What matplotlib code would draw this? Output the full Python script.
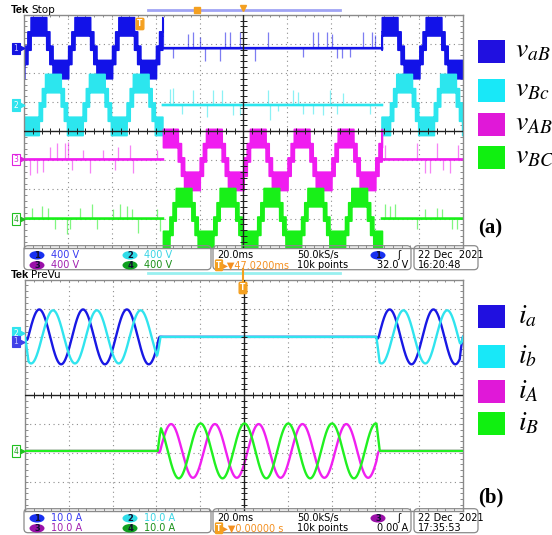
import numpy as np
import matplotlib.pyplot as plt
from matplotlib.patches import Rectangle, FancyBboxPatch, Ellipse

plt.rcParams['mathtext.fontset'] = 'stix'

W, H = 552, 535

# ---- screen (a): 400 V/div, 20 ms/div, 10 x 8 divisions (x in ms, y in div)
v_labels = [r'$v_{aB}$', r'$v_{Bc}$', r'$v_{AB}$', r'$v_{BC}$']
v_colors = ['#1212e8', '#2ce6ee', '#f01cf0', '#18f018']
v_legend = ['#2010e0', '#18e8f8', '#e018d8', '#10f010']
v_offset = [2.85, 0.9, -0.97, -3.0]
v_amp = [0.98, 0.98, 0.98, 0.98]
v_peak = [6.8, 13.4, 6.5, 12.7]          # positive peak time mod 20 ms
v_windows = [[(0, 63.3), (163.1, 200)], [(0, 63.3), (163.1, 200)],
             [(63.3, 163.1)], [(63.3, 163.1)]]
# spikes on the idle traces (ms, div)
v_spikes = [
    [(63.3, 1.0), (68.0, -0.35), (74.9, 0.5), (77.1, 0.55), (80.2, 0.4), (82.5, -0.45),
     (89.3, -0.45), (91.6, 0.57), (93.8, 0.57), (98.4, 0.57), (105.2, -0.45), (111.3, 0.57),
     (127.2, -0.3), (131.8, 0.57), (134.1, 0.57), (137.9, 0.57), (140.2, 0.5), (142.5, -0.35),
     (144.7, -0.35), (148.5, -0.3), (154.6, 0.57), (158.4, 0.57), (159.9, 0.45)],
    [(66.5, 0.55), (68.0, 0.6), (71.8, -0.3), (77.1, 0.5), (83.2, -0.4), (86.2, 0.5),
     (90.1, 0.5), (95.4, -0.35), (98.4, -0.35), (111.3, 0.5), (112.1, -0.5), (115.9, -0.2),
     (122.7, 0.5), (125.0, 0.45), (127.2, -0.3), (131.8, -0.3), (136.4, -0.35), (139.4, 0.5),
     (142.5, -0.3), (145.5, 0.4), (157.6, -0.3)],
    [(2.7, -0.54), (5.8, -0.48), (8.8, -0.42), (11.8, 0.43), (14.9, 0.55), (18.7, 0.55),
     (20.2, 0.6), (21.7, -0.37), (27.0, 0.32), (30.1, -0.48), (36.1, 0.32), (41.5, -0.37),
     (43.0, 0.43), (48.3, 0.5), (49.8, -0.48), (60.4, 0.32), (164.5, 0.5), (178.9, 0.55),
     (182.7, -0.48), (185.0, -0.48), (188.0, 0.55), (191.0, -0.37), (194.1, -0.48), (197.9, 0.5)],
    [(3.5, 0.38), (8.1, 0.44), (11.1, 0.38), (14.1, -0.37), (19.4, -0.54), (21.0, -0.37),
     (25.5, 0.38), (30.8, 0.49), (33.1, -0.37), (40.7, 0.32), (43.7, 0.49), (46.8, 0.44),
     (49.1, 0.32), (52.1, -0.48), (60.5, 0.32), (62.0, -0.42), (164.5, 0.49), (166.7, 0.44),
     (169.0, 0.49), (178.9, -0.37), (182.7, 0.32), (188.0, 0.38), (190.3, 0.32),
     (194.8, -0.37), (197.1, -0.37)],
]

# ---- screen (b): 10 A/div, 20 ms/div
i_labels = [r'$i_a$', r'$i_b$', r'$i_A$', r'$i_B$']
i_colors = ['#1818e4', '#30e4ee', '#f020f0', '#20f020']
i_legend = ['#2010e0', '#18e8f8', '#e018d8', '#10f010']
i_offset = [2.02, 2.02, -1.93, -1.93]
i_amp = [0.95, 0.92, 0.93, 0.95]
i_peak = [6.5, 12.8, 6.7, 0.2]
i_windows = [[(0, 61.8), (160.4, 200)], [(0, 61.8), (160.4, 200)],
             [(60.6, 162.0)], [(60.6, 162.0)]]

fig = plt.figure(figsize=(W / 100, H / 100), dpi=100)


def px_axes(x0, y0, x1, y1):
    return fig.add_axes([x0 / W, 1 - y1 / H, (x1 - x0) / W, (y1 - y0) / H])


def screen(ax):
    ax.set_xlim(0, 200)
    ax.set_ylim(-4, 4)
    ax.set_xticks([])
    ax.set_yticks([])
    for s in ax.spines.values():
        s.set_color('#8a8a8a')
        s.set_linewidth(1.0)
    for k in range(1, 10):
        if k != 5:
            ax.axvline(k * 20, color='#8c8c8c', lw=0.8, ls=(0, (1, 3.2)), zorder=0)
    for k in range(-3, 4):
        if k != 0:
            ax.axhline(k, color='#8c8c8c', lw=0.8, ls=(0, (1, 3.2)), zorder=0)
    ax.axvline(100, color='#202020', lw=1.0, zorder=5)
    ax.axhline(0, color='#202020', lw=1.0, zorder=5)
    mx = np.arange(4, 200, 4)
    my = np.arange(-3.8, 4, 0.2)
    ax.vlines(mx, -0.1, 0.1, color='#202020', lw=0.7, zorder=5)
    ax.hlines(my, 98.6, 101.4, color='#202020', lw=0.7, zorder=5)
    ax.vlines(mx, -4, -3.92, color='#8a8a8a', lw=0.7)
    ax.vlines(mx, 3.92, 4, color='#8a8a8a', lw=0.7)
    ax.hlines(my, 0, 1.2, color='#8a8a8a', lw=0.7)
    ax.hlines(my, 198.8, 200, color='#8a8a8a', lw=0.7)


def active(t, windows):
    m = np.zeros_like(t, dtype=bool)
    for a, b in windows:
        m |= (t >= a) & (t <= b)
    return m


t = np.linspace(0, 200, 8001)

# ---------------- screen (a)
axa = px_axes(24, 14.7, 463, 247.7)
screen(axa)
for k in range(4):
    off, amp = v_offset[k], v_amp[k]
    s = np.clip(2.3 * np.cos(2 * np.pi * (t - v_peak[k]) / 20), -1.999, 1.999)
    lo = off + amp * np.floor(s) / 2 - 0.07
    hi = off + amp * np.ceil(s) / 2 + 0.07
    m = active(t, v_windows[k])
    axa.fill_between(t, lo, hi, where=m, color=v_colors[k], lw=1.2, edgecolor=v_colors[k], zorder=2)
    idle = np.where(m, np.nan, off)
    axa.plot(t, idle, color=v_colors[k], lw=1.9, zorder=2)
    st = [p[0] for p in v_spikes[k]]
    sh = [off + p[1] for p in v_spikes[k]]
    axa.vlines(st, off, sh, color=v_colors[k], lw=0.9, alpha=0.55, zorder=2)

# ---------------- screen (b)
axb = px_axes(25, 279.7, 463, 510.7)
screen(axb)
for k in range(4):
    off = i_offset[k]
    env = np.zeros_like(t)
    for a, b in i_windows[k]:
        env = np.maximum(env, np.clip(np.minimum((t - a) / 1.5, (b - t) / 1.5), 0, 1))
    y = off + env * i_amp[k] * np.cos(2 * np.pi * (t - i_peak[k]) / 20)
    axb.plot(t, y, color=i_colors[k], lw=1.7, zorder=2 + k)

# ---------------- overlay for texts, legend and scope markers
ov = fig.add_axes([0, 0, 1, 1])
ov.set_xlim(0, W)
ov.set_ylim(H, 0)
ov.axis('off')

for y0, title in [(10, 'Stop'), (275, 'PreVu')]:
    ov.text(11, y0, 'Tek', fontsize=8, fontweight='bold', family='Liberation Sans', va='center')
    ov.text(31, y0, title, fontsize=7.5, family='DejaVu Sans', va='center')

# trigger / record bars
ov.plot([148, 340], [9.7, 9.7], color='#a0a4f4', lw=2)
ov.plot([148, 340], [273.3, 273.3], color='#98f0f0', lw=2)
ov.plot([197], [9.7], marker='s', ms=4, color='#f4a020')
ov.plot([243], [8], marker='v', ms=5, color='#f4a020')
ov.plot([243, 243], [269, 283], color='#f4a020', lw=1.5)
for xx, yy in [(140, 24), (243, 288)]:
    ov.text(xx, yy, 'T', fontsize=5.5, color='white', ha='center', va='center', fontweight='bold',
            bbox=dict(boxstyle='round,pad=0.15', fc='#f4a020', ec='#f4a020'))

# channel markers on the left edge
marks = [('1', 48.3, '#1414e0', '#c8c8ff', True), ('2', 105, '#30e4ee', 'white', True),
         ('3', 159.3, '#e020e0', '#e020e0', False), ('4', 219, '#20c020', '#20a020', False),
         ('2', 333, '#30e4ee', 'white', True), ('1', 341.7, '#4040e8', '#c8c8ff', True),
         ('4', 451, '#20c020', '#20a020', False)]
for lab, yy, c, tc, filled in marks:
    ov.text(16, yy, lab, fontsize=5.5, color=tc, ha='center', va='center',
            bbox=dict(boxstyle='square,pad=0.15', fc=c if filled else 'white', ec=c, lw=0.8))
    ov.plot([21.5], [yy], marker='>', ms=3.5, color=c)

# info panels
ch_fc = ['#1830f0', '#30dce8', '#9a10a8', '#10a020']
ch_tc = ['#3838f0', '#38d4e4', '#a020b0', '#189018']


def panel(y0, vals, tpos, trig_ch, trig_val, clock):
    r1, r2 = y0 + 7.6, y0 + 17.6
    for x0, x1 in [(24, 211), (213, 411), (414, 478)]:
        ov.add_patch(FancyBboxPatch((x0, y0 - 2), x1 - x0, 24, boxstyle='round,pad=0,rounding_size=4',
                                    fc='none', ec='#8a8a8a', lw=0.9))
    pos = [(37, r1), (130, r1), (37, r2), (130, r2)]
    for k, (xx, yy) in enumerate(pos):
        ov.add_patch(Ellipse((xx, yy), 15, 8.5, fc=ch_fc[k], ec='none'))
        ov.text(xx, yy, str(k + 1), fontsize=6, color='#101030', ha='center', va='center', fontweight='bold')
        ov.text(xx + 14, yy, vals, fontsize=7, color=ch_tc[k], va='center', family='DejaVu Sans')
    ov.text(217, r1, '20.0ms', fontsize=7, va='center', family='DejaVu Sans')
    ov.text(219, r2, 'T', fontsize=5.5, color='white', ha='center', va='center', fontweight='bold',
            bbox=dict(boxstyle='round,pad=0.1', fc='#f4a020', ec='#f4a020'))
    ov.text(223, r2, '\u25b8\u25bc' + tpos, fontsize=7, color='#f49020', va='center', family='DejaVu Sans')
    ov.text(297, r1, '50.0kS/s', fontsize=7, va='center', family='DejaVu Sans')
    ov.text(297, r2, '10k points', fontsize=7, va='center', family='DejaVu Sans')
    ov.add_patch(Ellipse((378, r1), 15, 8.5, fc=ch_fc[trig_ch - 1], ec='none'))
    ov.text(378, r1, str(trig_ch), fontsize=6, color='#101030', ha='center', va='center', fontweight='bold')
    ov.text(397, r1, '\u0283', fontsize=7, va='center', family='DejaVu Sans')
    ov.text(408, r2, trig_val, fontsize=7, va='center', ha='right', family='DejaVu Sans')
    ov.text(418, r1, '22 Dec  2021', fontsize=7, va='center', family='DejaVu Sans')
    ov.text(418, r2, clock, fontsize=7, va='center', family='DejaVu Sans')


panel(247.7, '400 V', '47.0200ms', 1, '32.0 V', '16:20:48')
panel(510.7, '10.0 A', '0.00000 s', 3, '0.00 A', '17:35:53')

# legends
for k in range(4):
    yc = [51, 90.5, 124, 157][k]
    ov.add_patch(Rectangle((478, yc - 11.5), 27, 23, fc=v_legend[k], ec='none'))
    ov.text(515, yc + 6, v_labels[k], fontsize=20, va='baseline')
for k in range(4):
    yc = [316.5, 356.5, 391.5, 423.5][k]
    ov.add_patch(Rectangle((478, yc - 11.5), 27, 23, fc=i_legend[k], ec='none'))
    ov.text(518, yc + 7, i_labels[k], fontsize=20, va='baseline')

ov.text(478, 228, '(a)', fontsize=15, fontweight='bold', family='Liberation Serif', va='center')
ov.text(478, 497, '(b)', fontsize=15, fontweight='bold', family='Liberation Serif', va='center')

fig.savefig('out.png', dpi=100)
